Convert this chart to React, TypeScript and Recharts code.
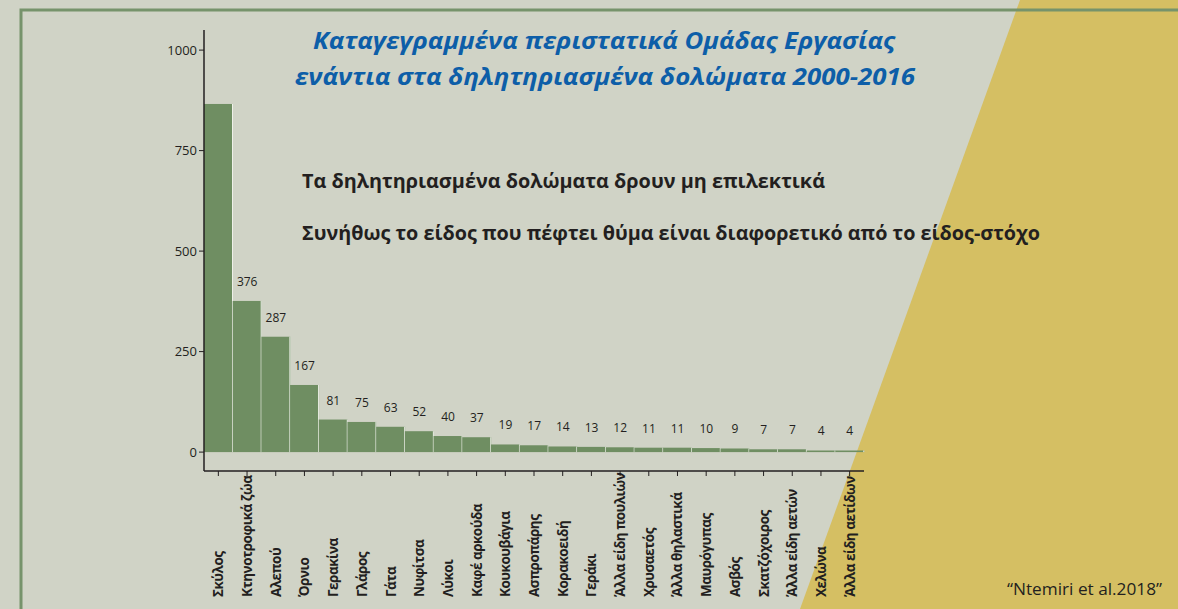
import React from "react";
import { BarChart, Bar, XAxis, YAxis, LabelList } from "recharts";

const categories = [
  "Σκύλος",
  "Κτηνοτροφικά ζώα",
  "Αλεπού",
  "Όρνιο",
  "Γερακίνα",
  "Γλάρος",
  "Γάτα",
  "Νυφίτσα",
  "Λύκοι",
  "Καφέ αρκούδα",
  "Κουκουβάγια",
  "Ασπροπάρης",
  "Κορακοειδή",
  "Γεράκι",
  "Άλλα είδη πουλιών",
  "Χρυσαετός",
  "Άλλα θηλαστικά",
  "Μαυρόγυπας",
  "Ασβός",
  "Σκατζόχοιρος",
  "Άλλα είδη αετών",
  "Χελώνα",
  "Άλλα είδη αετίδων",
];

const incidents = [
  866, 376, 287, 167, 81, 75, 63, 52, 40, 37, 19, 17, 14, 13, 12, 11, 11, 10, 9,
  7, 7, 4, 4,
];

const yTicks = [0, 250, 500, 750, 1000];

const titleLines = [
  "Καταγεγραμμένα περιστατικά Ομάδας Εργασίας",
  "ενάντια στα δηλητηριασμένα δολώματα 2000-2016",
];

const notes = [
  "Τα δηλητηριασμένα δολώματα δρουν μη επιλεκτικά",
  "Συνήθως το είδος που πέφτει θύμα είναι διαφορετικό από το είδος-στόχο",
];

const source = "\u201CNtemiri et al.2018\u201D";

const data = categories.map((name, i) => ({ name, value: incidents[i] }));

const INK = "#231f20";
const BAR = "#6f8e62";
const FONT = "'Open Sans', 'DejaVu Sans', sans-serif";

function RotatedTick(props: any) {
  const { x, payload } = props;
  return (
    <text
      transform={`translate(${x + 5}, 597) rotate(-90)`}
      textAnchor="start"
      fontFamily={FONT}
      fontWeight={700}
      fontSize={13.5}
      letterSpacing="-0.5px"
      fill={INK}
    >
      {payload.value}
    </text>
  );
}

function BarShape(props: any) {
  const { x, y, width, height } = props;
  if (!height || height <= 0) return null;
  return (
    <g>
      <rect x={x} y={y} width={width} height={height} fill={BAR} />
      <rect x={x + width - 1} y={y} width={1} height={height} fill="#eef0e8" />
    </g>
  );
}

function ValueLabel(props: any) {
  const { x, y, width, value, index } = props;
  if (index === 0) return null;
  return (
    <text
      x={x + width / 2}
      y={y - 15}
      textAnchor="middle"
      fontFamily={FONT}
      fontSize={12}
      fill={INK}
    >
      {value}
    </text>
  );
}

export default function App() {
  return (
    <div
      style={{
        position: "absolute",
        left: 0,
        top: 0,
        width: 1178,
        height: 609,
        overflow: "hidden",
        background: "#d0d3c6",
      }}
    >
      <svg
        width={1178}
        height={609}
        style={{ position: "absolute", left: 0, top: 0 }}
      >
        <rect x={0} y={0} width={1178} height={609} fill="#d0d3c6" />
        <polygon points="1020,0 1178,0 1178,609 800,609" fill="#d5bf63" />
        <path
          d="M21,609 L21,10 L1178,10"
          fill="none"
          stroke="#76936b"
          strokeWidth={3}
        />
        <text
          x={313}
          y={49}
          fontFamily={FONT}
          fontWeight={700}
          fontStyle="italic"
          fontSize={23.5}
          fill="#0d5ea8"
          textLength={582}
          lengthAdjust="spacingAndGlyphs"
        >
          {titleLines[0]}
        </text>
        <text
          x={295}
          y={85}
          fontFamily={FONT}
          fontWeight={700}
          fontStyle="italic"
          fontSize={23.5}
          fill="#0d5ea8"
          textLength={620}
          lengthAdjust="spacingAndGlyphs"
        >
          {titleLines[1]}
        </text>
        <text
          x={302}
          y={188}
          fontFamily={FONT}
          fontWeight={700}
          fontSize={20}
          fill={INK}
          textLength={523}
          lengthAdjust="spacingAndGlyphs"
        >
          {notes[0]}
        </text>
        <text
          x={302}
          y={240}
          fontFamily={FONT}
          fontWeight={700}
          fontSize={20}
          fill={INK}
          textLength={738}
          lengthAdjust="spacingAndGlyphs"
        >
          {notes[1]}
        </text>
        <text
          x={1007}
          y={595}
          fontFamily={FONT}
          fontSize={16}
          fill={INK}
          textLength={155}
          lengthAdjust="spacingAndGlyphs"
        >
          {source}
        </text>
      </svg>
      <div style={{ position: "absolute", left: 0, top: 0 }}>
        <BarChart
          width={1178}
          height={609}
          data={data}
          margin={{ top: 30, right: 314, bottom: 0, left: 144 }}
          barCategoryGap={0}
        >
          <XAxis
            dataKey="name"
            interval={0}
            height={138}
            tickSize={5}
            tick={<RotatedTick />}
            axisLine={{ stroke: INK, strokeWidth: 1.5 }}
            tickLine={{ stroke: INK }}
          />
          <YAxis
            width={60}
            domain={[-47, 1050]}
            allowDataOverflow
            ticks={yTicks}
            tickSize={5}
            axisLine={{ stroke: INK, strokeWidth: 1.5 }}
            tickLine={{ stroke: INK }}
            tick={{ fill: INK, fontSize: 13, fontFamily: FONT }}
          />
          <Bar dataKey="value" isAnimationActive={false} shape={<BarShape />}>
            <LabelList dataKey="value" content={<ValueLabel />} />
          </Bar>
        </BarChart>
      </div>
    </div>
  );
}
